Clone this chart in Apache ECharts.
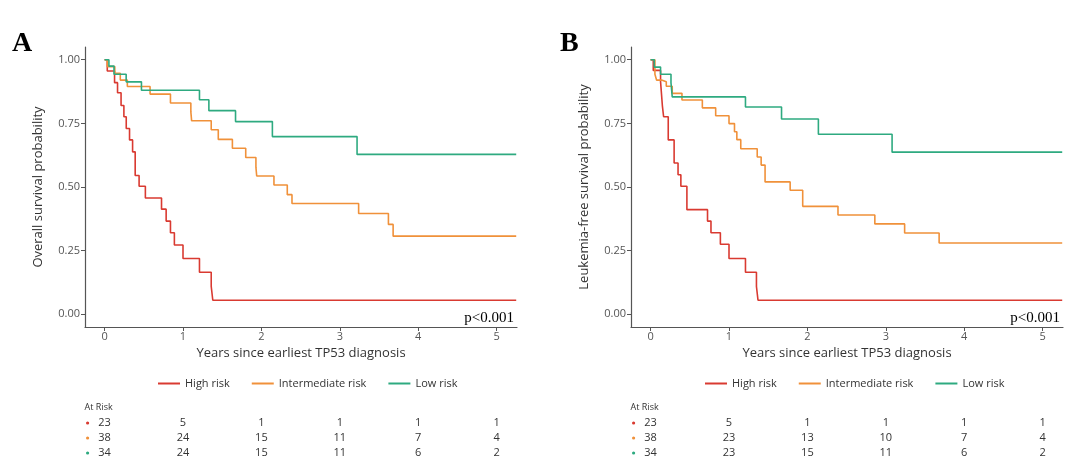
<!DOCTYPE html>
<html><head><meta charset="utf-8">
<script src="https://cdn.jsdelivr.net/npm/echarts@6/dist/echarts.min.js"></script>
<style>body{margin:0;background:#fff}#c{width:1080px;height:464px}</style></head>
<body><div id="c"></div>
<script>
const seriesNames = ['High risk','Intermediate risk','Low risk'];
const colors = ['#d93a31','#f0913a','#2eaa80'];
const yTicks = [0,0.25,0.5,0.75,1];
const xTicks = [0,1,2,3,4,5];
// Panel A (overall survival) [years, probability]
const aHigh = [[0,1],[0.034,0.956],[0.127,0.91],[0.165,0.87],[0.21,0.82],[0.246,0.776],[0.276,0.73],[0.318,0.685],[0.357,0.638],[0.39,0.545],[0.44,0.503],[0.52,0.457],[0.726,0.413],[0.785,0.366],[0.84,0.32],[0.89,0.272],[1.0,0.219],[1.21,0.165],[1.36,0.109],[1.38,0.055],[5.25,0.055]];
const aInter = [[0,1],[0.034,0.973],[0.13,0.947],[0.2,0.92],[0.29,0.895],[0.58,0.865],[0.84,0.83],[1.10,0.795],[1.11,0.76],[1.36,0.725],[1.45,0.687],[1.63,0.652],[1.80,0.616],[1.93,0.578],[1.94,0.543],[2.16,0.508],[2.33,0.47],[2.39,0.435],[3.24,0.396],[3.62,0.353],[3.68,0.307],[5.25,0.307]];
const aLow = [[0,1],[0.055,0.975],[0.12,0.943],[0.275,0.913],[0.47,0.88],[1.21,0.843],[1.33,0.80],[1.67,0.757],[2.14,0.698],[3.22,0.628],[5.25,0.628]];
// Panel B (leukemia-free survival)
const bHigh = [[0,1],[0.034,0.958],[0.127,0.914],[0.15,0.82],[0.166,0.776],[0.225,0.685],[0.30,0.594],[0.35,0.548],[0.386,0.503],[0.463,0.411],[0.726,0.366],[0.77,0.32],[0.89,0.275],[1.0,0.219],[1.21,0.165],[1.35,0.109],[1.37,0.055],[5.25,0.055]];
const bInter = [[0,1],[0.055,0.943],[0.076,0.92],[0.14,0.913],[0.2,0.896],[0.276,0.868],[0.40,0.842],[0.66,0.811],[0.83,0.78],[1.0,0.749],[1.07,0.717],[1.10,0.686],[1.15,0.65],[1.36,0.618],[1.41,0.586],[1.46,0.52],[1.78,0.487],[1.94,0.424],[2.39,0.39],[2.86,0.355],[3.24,0.319],[3.68,0.28],[5.25,0.28]];
const bLow = [[0,1],[0.047,0.971],[0.127,0.943],[0.26,0.909],[0.276,0.854],[1.21,0.814],[1.67,0.767],[2.14,0.707],[3.08,0.637],[5.25,0.637]];
// At-risk tables
const aRisk = [[23,5,1,1,1,1],[38,24,15,11,7,4],[34,24,15,11,6,2]];
const bRisk = [[23,5,1,1,1,1],[38,23,13,10,7,4],[34,23,15,11,6,2]];

const font = '"Open Sans", "DejaVu Sans", sans-serif';
const grids = [{left:85,top:47,width:432,height:280},{left:631,top:47,width:432,height:280}];
const yNames = ['Overall survival probability','Leukemia-free survival probability'];
function xAxis(i){return {type:'value',gridIndex:i,min:-0.25,max:5.26,
  name:'Years since earliest TP53 diagnosis',nameLocation:'middle',nameGap:16,
  nameTextStyle:{fontFamily:font,fontSize:13,color:'#333'},
  axisLine:{onZero:false,lineStyle:{color:'#555',width:1.2}},splitLine:{show:false},
  axisTick:{show:true,length:4,customValues:xTicks,lineStyle:{color:'#555'}},
  axisLabel:{customValues:xTicks,fontFamily:font,fontSize:11,color:'#555',margin:4}};}
function yAxis(i){return {type:'value',gridIndex:i,min:-0.05,max:1.05,
  name:yNames[i],nameLocation:'middle',nameGap:40,
  nameTextStyle:{fontFamily:font,fontSize:13,color:'#333'},
  axisLine:{show:true,onZero:false,lineStyle:{color:'#555',width:1.2}},splitLine:{show:false},
  axisTick:{show:true,length:4,customValues:yTicks,lineStyle:{color:'#555'}},
  axisLabel:{customValues:yTicks,fontFamily:font,fontSize:11,color:'#555',margin:5,formatter:v=>v.toFixed(2)}};}
const panels = [[aHigh,aInter,aLow],[bHigh,bInter,bLow]];
const series=[];
panels.forEach((p,i)=>p.forEach((d,k)=>series.push({type:'line',name:seriesNames[k],xAxisIndex:i,yAxisIndex:i,
  data:d,step:'end',symbol:'none',lineStyle:{width:1.6,color:colors[k]},itemStyle:{color:colors[k]},silent:true,animation:false})));

const chart = echarts.init(document.getElementById('c'));
chart.setOption({animation:false,grid:grids,xAxis:[xAxis(0),xAxis(1)],yAxis:[yAxis(0),yAxis(1)],series,
  legend:[0,1].map(i=>({left:i?700:153,top:373,itemWidth:22,itemHeight:2,itemGap:22,icon:'rect',
    data:seriesNames,textStyle:{fontFamily:font,fontSize:11,color:'#333'}}))});

const g=[];
g.push({type:'text',left:12,top:30,style:{text:'A',font:'bold 28px "Liberation Serif", serif',fill:'#000'}});
g.push({type:'text',left:560,top:30,style:{text:'B',font:'bold 28px "Liberation Serif", serif',fill:'#000'}});
[aRisk,bRisk].forEach((tbl,i)=>{
  const x0 = chart.convertToPixel({xAxisIndex:i},0);
  const pr = chart.convertToPixel({xAxisIndex:i},5.26);
  g.push({type:'text',x:pr-3,y:318,style:{text:'p<0.001',font:'15px "Liberation Serif", serif',fill:'#000',align:'right',verticalAlign:'middle'}});
  g.push({type:'text',x:x0-20,y:407,style:{text:'At Risk',font:'9px '+font,fill:'#333',verticalAlign:'middle'}});
  tbl.forEach((row,k)=>{
    const y=423+k*15;
    g.push({type:'circle',shape:{cx:x0-17,cy:y,r:1.6},style:{fill:colors[k]}});
    row.forEach((v,j)=>{
      const x=chart.convertToPixel({xAxisIndex:i},xTicks[j]);
      g.push({type:'text',x:x,y:y,style:{text:String(v),font:'11px '+font,fill:'#333',align:'center',verticalAlign:'middle'}});
    });
  });
});
chart.setOption({graphic:g});
</script></body></html>
